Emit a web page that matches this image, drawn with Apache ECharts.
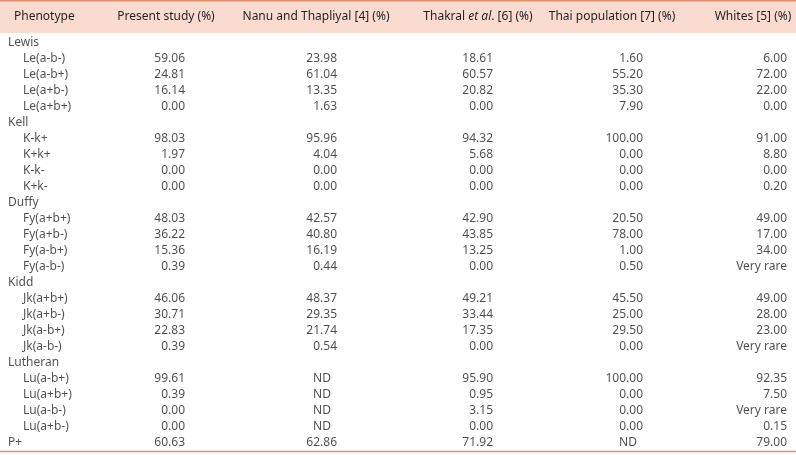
<!DOCTYPE html>
<html><head><meta charset="utf-8">
<script src="https://cdn.jsdelivr.net/npm/echarts@6/dist/echarts.min.js"></script>
<style>html,body{margin:0;padding:0;background:#fff}#c{width:796px;height:455px}</style>
</head><body><div id="c"></div>
<script>
// ---- data ----
var groups = ['Lewis','Kell','Duffy','Kidd','Lutheran'];
var phenotypes = [
  ['Le(a-b-)','Le(a-b+)','Le(a+b-)','Le(a+b+)'],
  ['K-k+','K+k+','K-k-','K+k-'],
  ['Fy(a+b+)','Fy(a+b-)','Fy(a-b+)','Fy(a-b-)'],
  ['Jk(a+b+)','Jk(a+b-)','Jk(a-b+)','Jk(a-b-)'],
  ['Lu(a-b+)','Lu(a+b+)','Lu(a-b-)','Lu(a+b-)']
];
var lastRow = 'P+';
var columnHeaders = ['Phenotype','Present study (%)','Nanu and Thapliyal [4] (%)','Thakral et al. [6] (%)','Thai population [7] (%)','Whites [5] (%)'];
var presentStudy = [59.06,24.81,16.14,0.00, 98.03,1.97,0.00,0.00, 48.03,36.22,15.36,0.39, 46.06,30.71,22.83,0.39, 99.61,0.39,0.00,0.00, 60.63];
var nanuThapliyal = [23.98,61.04,13.35,1.63, 95.96,4.04,0.00,0.00, 42.57,40.80,16.19,0.44, 48.37,29.35,21.74,0.54, 'ND','ND','ND','ND', 62.86];
var thakral = [18.61,60.57,20.82,0.00, 94.32,5.68,0.00,0.00, 42.90,43.85,13.25,0.00, 49.21,33.44,17.35,0.00, 95.90,0.95,3.15,0.00, 71.92];
var thaiPopulation = [1.60,55.20,35.30,7.90, 100.00,0.00,0.00,0.00, 20.50,78.00,1.00,0.50, 45.50,25.00,29.50,0.00, 100.00,0.00,0.00,0.00, 'ND'];
var whites = [6.00,72.00,22.00,0.00, 91.00,8.80,0.00,0.20, 49.00,17.00,34.00,'Very rare', 49.00,28.00,23.00,'Very rare', 92.35,7.50,'Very rare',0.15, 79.00];

// ---- layout (styles / positions only) ----
var FONT = '"Noto Sans", sans-serif';
var FS = 12;
var TXT = '#231f20';
var colRight = [0, 185, 337, 493, 643, 787];   // right edge of value columns
var headerCenter = [0, 166, 316, 478, 612, 753];
var groupX = 8, itemX = 23, headerLeft = 14;

// build row list
var rowLabels = [], rowKind = [], valueRowIdx = [];
var vcount = 0;
groups.forEach(function(g, gi){
  rowLabels.push(g); rowKind.push('group'); valueRowIdx.push(-1);
  phenotypes[gi].forEach(function(p){ rowLabels.push(p); rowKind.push('item'); valueRowIdx.push(vcount++); });
});
rowLabels.push(lastRow); rowKind.push('group'); valueRowIdx.push(vcount++);

var cols = [presentStudy, nanuThapliyal, thakral, thaiPopulation, whites];

var labelBase = {show:true, fontFamily:FONT, fontSize:FS, color:TXT, verticalAlign:'middle'};

var series = [];
// phenotype column
series.push({
  type:'scatter', symbolSize:0, silent:true,
  data: rowLabels.map(function(r, i){
    return {value:[rowKind[i]==='group'?groupX:itemX, i], label:Object.assign({}, labelBase, {position:'inside', align:'left', formatter:r})};
  })
});
cols.forEach(function(arr, ci){
  var right = colRight[ci+1];
  var d = [];
  rowLabels.forEach(function(r, i){
    var vi = valueRowIdx[i];
    if (vi < 0) return;
    var v = arr[vi];
    var txt, x, al;
    if (typeof v === 'number') { txt = v.toFixed(2); x = right; al = 'right'; }
    else if (v === 'ND') { txt = v; x = right - 15; al = 'center'; }
    else { txt = v; x = right; al = 'right'; }
    d.push({value:[x, i], label:Object.assign({}, labelBase, {position:'inside', align:al, formatter:txt})});
  });
  series.push({type:'scatter', symbolSize:0, silent:true, data:d});
});

// header graphics
var headerTexts = [];
headerTexts.push({type:'text', x:headerLeft, y:17, style:{text:columnHeaders[0], font:FS+'px '+FONT, fill:TXT, align:'left', verticalAlign:'middle'}});
for (var h=1; h<columnHeaders.length; h++){
  var t = columnHeaders[h];
  if (t.indexOf('et al.') >= 0){
    var parts = t.split('et al.');
    headerTexts.push({type:'text', x:headerCenter[h], y:17, style:{
      text:'{n|'+parts[0]+'}{i|et al}{n|.'+parts[1]+'}', align:'center', verticalAlign:'middle',
      rich:{n:{fontFamily:FONT,fontSize:FS,fill:TXT,color:TXT}, i:{fontFamily:FONT,fontSize:FS,fontStyle:'italic',fill:TXT,color:TXT}}
    }});
  } else {
    headerTexts.push({type:'text', x:headerCenter[h], y:17, style:{text:t, font:FS+'px '+FONT, fill:TXT, align:'center', verticalAlign:'middle'}});
  }
}

var chart = echarts.init(document.getElementById('c'), null, {renderer:'canvas'});
chart.setOption({
  animation:false,
  backgroundColor:'#ffffff',
  grid:{left:0, right:0, top:35, bottom:4},
  xAxis:{type:'value', min:0, max:796, show:false},
  yAxis:{type:'category', data:rowLabels, inverse:true, show:false},
  graphic:[
    {type:'rect', shape:{x:0, y:0, width:796, height:33}, style:{fill:'#f9dbcf'}, z:-1},
    {type:'line', shape:{x1:0, y1:0.75, x2:796, y2:0.75}, style:{stroke:'#e3906f', lineWidth:1.5}},
    {type:'line', shape:{x1:0, y1:451.5, x2:796, y2:451.5}, style:{stroke:'#e3906f', lineWidth:1.5}}
  ].concat(headerTexts),
  series: series
});
</script></body></html>
